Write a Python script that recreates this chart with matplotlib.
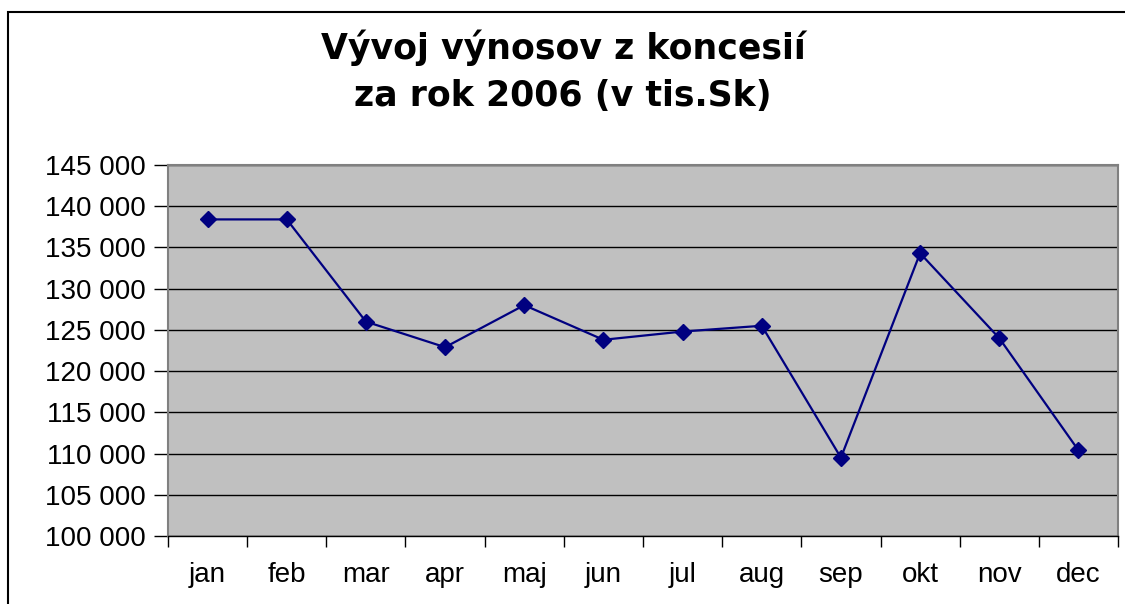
import matplotlib
matplotlib.use("Agg")
import matplotlib.pyplot as plt
from matplotlib.patches import Rectangle
from matplotlib.ticker import FuncFormatter, FixedLocator

months = ["jan", "feb", "mar", "apr", "maj", "jun", "jul", "aug", "sep", "okt", "nov", "dec"]
values = [138400, 138400, 126000, 122900, 128000, 123800, 124800, 125500, 109500, 134300, 124000, 110400]
yticks = [100000, 105000, 110000, 115000, 120000, 125000, 130000, 135000, 140000, 145000]
title = "Vývoj výnosov z koncesií\nza rok 2006 (v tis.Sk)"

plt.rcParams['font.family'] = ['Liberation Sans', 'DejaVu Sans']

W, H = 1125, 604
fig = plt.figure(figsize=(W / 100, H / 100), dpi=100)
fig.patch.set_facecolor("white")

# outer chart frame
fig.patches.append(Rectangle((8 / W, -0.1), 1.2, 1 - 12 / H + 0.1, transform=fig.transFigure,
                             fill=False, edgecolor="black", lw=1.5))

ax = fig.add_axes([168 / W, (H - 536) / H, 950 / W, 371 / H])
ax.set_facecolor("#C0C0C0")

x = list(range(len(months)))
ax.plot(x, values, color="#000080", lw=1.6, marker="D", markersize=8.5,
        markerfacecolor="#000080", markeredgecolor="#000080", zorder=3)

ax.set_xlim(-0.5, len(months) - 0.5)
ax.set_ylim(yticks[0], yticks[-1])
ax.set_yticks(yticks)
ax.yaxis.set_major_formatter(FuncFormatter(lambda v, p: f"{int(v):,}".replace(",", " ")))
ax.grid(axis="y", color="black", lw=1)
ax.set_axisbelow(True)

ax.set_xticks(x)
ax.set_xticklabels(months)
ax.xaxis.set_minor_locator(FixedLocator([i - 0.5 for i in range(len(months) + 1)]))
ax.tick_params(axis="x", which="major", length=0, pad=19, labelsize=20)
ax.tick_params(axis="x", which="minor", length=8, width=1, color="black", direction="out")
ax.tick_params(axis="y", length=10, width=1, color="black", pad=6, labelsize=20)

for s in ["left", "right", "top"]:
    ax.spines[s].set_color("#808080")
    ax.spines[s].set_linewidth(1.5)
ax.spines["bottom"].set_color("black")
ax.spines["bottom"].set_linewidth(1)

fig.text(563 / W, 1 - 71 / H, title, ha="center", va="center", fontsize=25,
         fontweight="bold", family=["DejaVu Sans"], linespacing=1.5)

fig.savefig("out.png", dpi=100, facecolor="white")
